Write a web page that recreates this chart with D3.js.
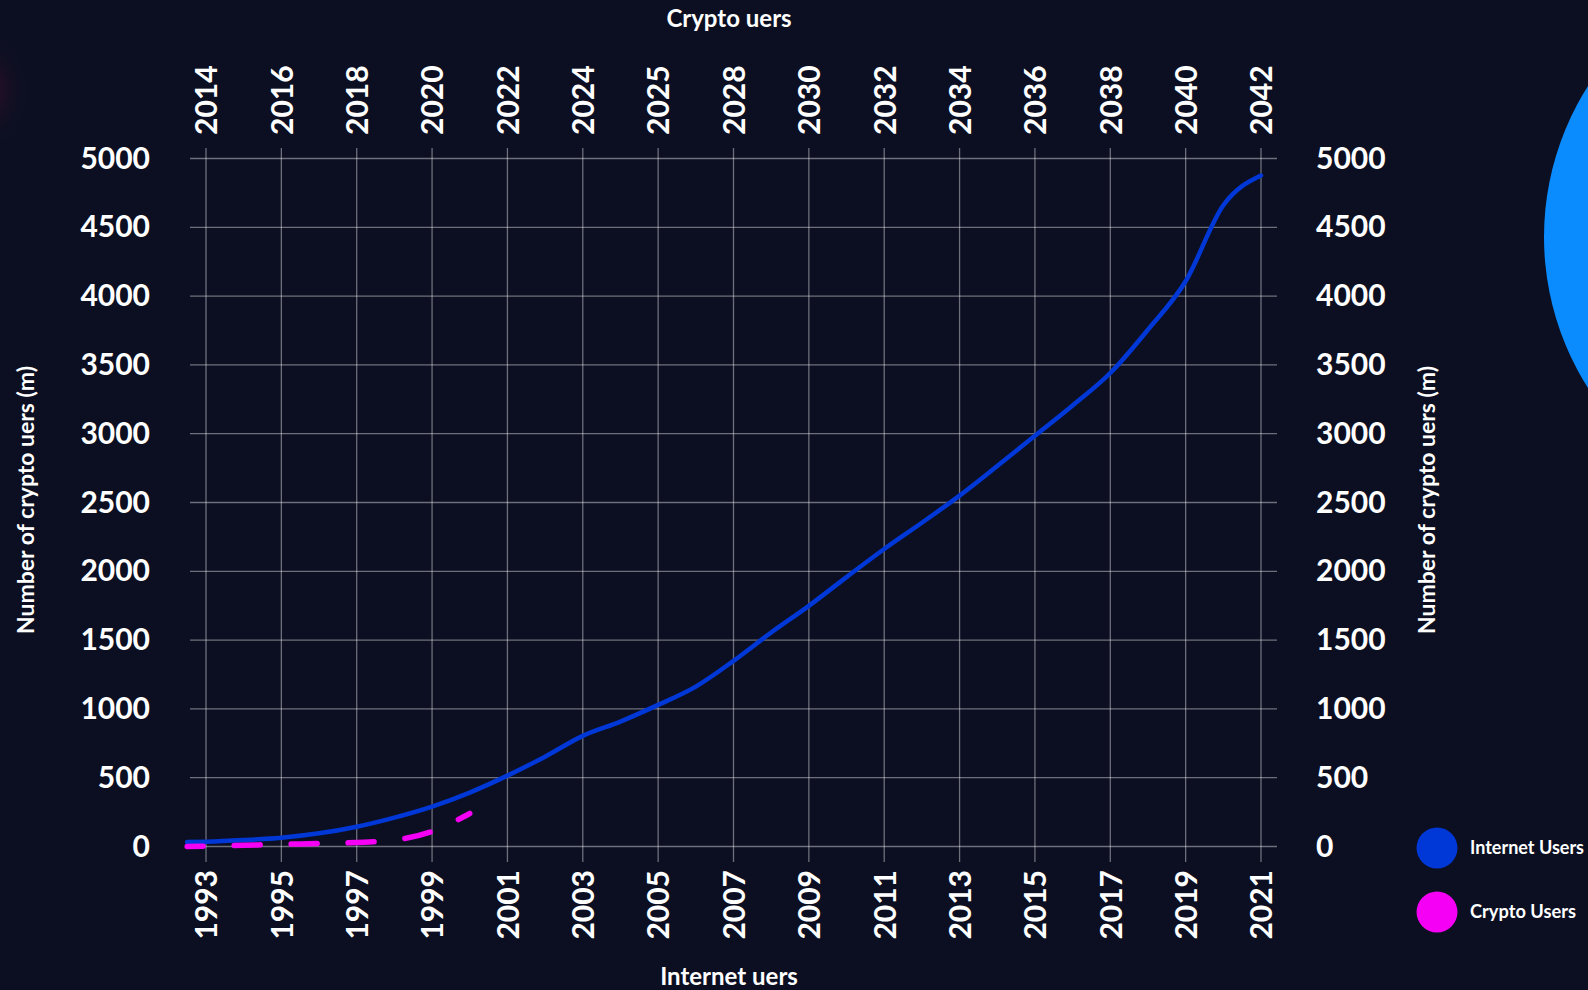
<!DOCTYPE html>
<html>
<head>
<meta charset="utf-8">
<script src="https://cdn.jsdelivr.net/npm/d3@7"></script>
<style>
  body { margin: 0; background: #0c0f22; }
  svg { display: block; }
  text { font-family: Lato, "Open Sans", sans-serif; font-weight: 700; fill: #fff; }
</style>
</head>
<body>
<div id="chart"></div>
<script>
// bottom axis (internet users) and top axis (crypto users) tick labels
const tickYears = [1993, 1995, 1997, 1999, 2001, 2003, 2005, 2007, 2009, 2011, 2013, 2015, 2017, 2019, 2021];
const topLabels = ['2014', '2016', '2018', '2020', '2022', '2024', '2025', '2028', '2030', '2032', '2034', '2036', '2038', '2040', '2042'];
const yTicks = [0, 500, 1000, 1500, 2000, 2500, 3000, 3500, 4000, 4500, 5000];

// values (millions)
const years = [1992.5, 1993, 1994, 1995, 1996, 1997, 1998, 1999, 2000, 2001, 2002, 2003, 2004, 2005, 2006,
               2007, 2008, 2009, 2010, 2011, 2012, 2013, 2014, 2015, 2016, 2017, 2018, 2019, 2020, 2021];
const internetUsers = [32, 35, 47, 64, 96, 144, 210, 290, 392, 515, 653, 804, 908, 1029, 1162,
                       1349, 1555, 1749, 1958, 2162, 2353, 2550, 2765, 2985, 3205, 3441, 3756, 4108, 4660, 4876];
const cryptoUsers = [0, 2, 9, 16, 22, 29, 47, 110, 240];

const legendItems = ['Internet Users', 'Crypto Users'];
const colors = ['#0038d8', '#f500f5'];

const width = 1588,
      height = 990;

const x = d3.scaleLinear().domain([1993, 2021]).range([206, 1261]),
      y = d3.scaleLinear().domain([0, 5000]).range([846.5, 158.5]);

const svg = d3.select('#chart').append('svg').attr('width', width).attr('height', height);

svg.append('rect').attr('width', width).attr('height', height).attr('fill', '#0c0f22');

// faint glow at the left edge + big blue circle at the right
const defs = svg.append('defs');
const glow = defs.append('radialGradient').attr('id', 'glow');
glow.append('stop').attr('offset', '0%').attr('stop-color', '#3a0f2a').attr('stop-opacity', 0.8);
glow.append('stop').attr('offset', '100%').attr('stop-color', '#0c0f22').attr('stop-opacity', 0);
svg.append('ellipse').attr('cx', -10).attr('cy', 90).attr('rx', 40).attr('ry', 60).attr('fill', 'url(#glow)');

svg.append('circle').attr('cx', 1825).attr('cy', 237).attr('r', 281).attr('fill', '#0a8cff');

// grid
const grid = svg.append('g').attr('stroke', 'rgba(255,255,255,0.4)').attr('stroke-width', 1.3);
grid.selectAll('line.h').data(yTicks).join('line').attr('class', 'h')
    .attr('x1', 190).attr('x2', 1277).attr('y1', d => y(d)).attr('y2', d => y(d));
grid.selectAll('line.v').data(tickYears).join('line').attr('class', 'v')
    .attr('x1', d => x(d)).attr('x2', d => x(d)).attr('y1', 148).attr('y2', 862);

// axes
function styleAxis(g) {
  g.select('.domain').remove();
  g.selectAll('.tick line').remove();
  g.selectAll('.tick text').style('font-size', '30px').attr('fill', '#fff');
}

svg.append('g').attr('transform', 'translate(150,0)')
   .call(d3.axisLeft(y).tickValues(yTicks).tickFormat(d3.format('d')).tickSize(0).tickPadding(0))
   .call(styleAxis);

svg.append('g').attr('transform', 'translate(1316,0)')
   .call(d3.axisRight(y).tickValues(yTicks).tickFormat(d3.format('d')).tickSize(0).tickPadding(0))
   .call(styleAxis);

svg.append('g').attr('transform', 'translate(0,862)')
   .call(d3.axisBottom(x).tickValues(tickYears).tickFormat(d3.format('d')).tickSize(0))
   .call(styleAxis)
   .selectAll('.tick text')
   .attr('transform', 'rotate(-90)').attr('x', -8).attr('y', 0).attr('dy', '0.36em')
   .style('text-anchor', 'end');

svg.append('g').attr('transform', 'translate(0,148)')
   .call(d3.axisTop(x).tickValues(tickYears).tickFormat((d, i) => topLabels[i]).tickSize(0))
   .call(styleAxis)
   .selectAll('.tick text')
   .attr('transform', 'rotate(-90)').attr('x', 13).attr('y', 0).attr('dy', '0.36em')
   .style('text-anchor', 'start');

// axis titles
svg.append('text').attr('x', 729).attr('y', 27).attr('text-anchor', 'middle')
   .style('font-size', '24px').text('Crypto uers');
svg.append('text').attr('x', 729).attr('y', 985).attr('text-anchor', 'middle')
   .style('font-size', '24px').text('Internet uers');
svg.append('text').attr('transform', 'translate(34,500) rotate(-90)').attr('text-anchor', 'middle')
   .style('font-size', '23px').text('Number of crypto uers (m)');
svg.append('text').attr('transform', 'translate(1435,500) rotate(-90)').attr('text-anchor', 'middle')
   .style('font-size', '23px').text('Number of crypto uers (m)');

// lines
const line = d3.line().x(d => x(d[0])).y(d => y(d[1])).curve(d3.curveMonotoneX);

svg.append('path')
   .datum(d3.zip(years, internetUsers))
   .attr('d', line).attr('fill', 'none')
   .attr('stroke', colors[0]).attr('stroke-width', 4.5).attr('stroke-linecap', 'round');

svg.append('path')
   .datum(d3.zip(years.slice(0, cryptoUsers.length), cryptoUsers))
   .attr('d', line).attr('fill', 'none')
   .attr('stroke', colors[1]).attr('stroke-width', 5.5).attr('stroke-linecap', 'round')
   .attr('stroke-dasharray', '26 31').attr('stroke-dashoffset', 10);

// legend
const lg = svg.append('g').selectAll('g').data(legendItems).join('g')
   .attr('transform', (d, i) => `translate(1437,${848 + i * 64})`);
lg.append('circle').attr('r', 20.5).attr('fill', (d, i) => colors[i]);
lg.append('text').attr('x', 33).attr('dy', '0.35em').style('font-size', '18px')
   .attr('textLength', d => d === 'Internet Users' ? 114 : 106).attr('lengthAdjust', 'spacingAndGlyphs')
   .text(d => d);
</script>
</body>
</html>
